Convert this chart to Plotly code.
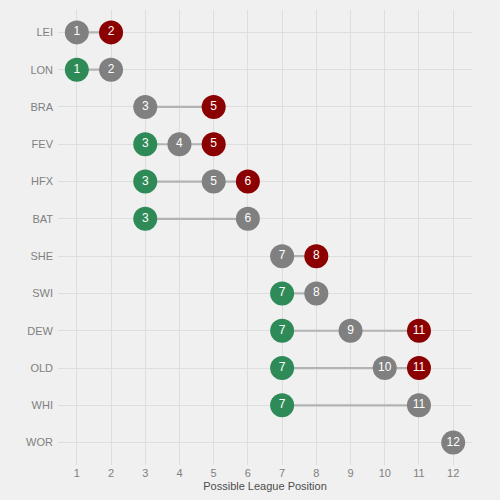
import plotly.graph_objects as go

teams = ["LEI", "LON", "BRA", "FEV", "HFX", "BAT", "SHE", "SWI", "DEW", "OLD", "WHI", "WOR"]
best_pos = [None, 1, None, 3, 3, 3, None, 7, 7, 7, 7, None]      # green
other_pos = [1, 2, 3, 4, 5, 6, 7, 8, 9, 10, 11, 12]               # grey
worst_pos = [2, None, 5, 5, 6, None, 8, None, 11, 11, None, None]  # red
x_ticks = list(range(1, 13))

GREEN = "#2e8b57"
RED = "#8b0000"
GREY = "#808080"
FONT = "Liberation Sans, Arial, sans-serif"

fig = go.Figure()

# range lines
for t, b, o, w in zip(teams, best_pos, other_pos, worst_pos):
    vals = [v for v in (b, o, w) if v is not None]
    lo, hi = min(vals), max(vals)
    if hi > lo:
        fig.add_trace(go.Scatter(x=[lo, hi], y=[t, t], mode="lines",
                                 line=dict(color="#b3b3b3", width=2.2),
                                 hoverinfo="skip", showlegend=False))

def add_points(vals, color):
    xs = [v for v in vals if v is not None]
    ys = [t for t, v in zip(teams, vals) if v is not None]
    fig.add_trace(go.Scatter(x=xs, y=ys, mode="markers+text",
                             marker=dict(color=color, size=24, line=dict(width=0)),
                             text=[str(v) for v in xs], textposition="middle center",
                             textfont=dict(color="white", size=12, family=FONT),
                             showlegend=False))

add_points(other_pos, GREY)
add_points(best_pos, GREEN)
add_points(worst_pos, RED)

fig.update_layout(
    width=500, height=500,
    margin=dict(l=58, r=28, t=10, b=35),
    paper_bgcolor="#f0f0f0", plot_bgcolor="#f0f0f0",
    font=dict(family=FONT, color="#7f7f7f", size=11),
    showlegend=False,
)
fig.update_xaxes(range=[0.45, 12.55], tickvals=x_ticks, ticktext=[str(v) for v in x_ticks],
                 showgrid=True, gridcolor="#dedede", gridwidth=1, zeroline=False,
                 showline=False, ticks="", tickfont=dict(size=11, color="#7f7f7f"),
                 title=dict(text="Possible League Position", standoff=4,
                            font=dict(size=11, color="#4d4d4d")))
fig.update_yaxes(type="category", categoryorder="array", categoryarray=teams,
                 range=[11.6, -0.6], showgrid=True, gridcolor="#dedede", gridwidth=1,
                 zeroline=False, showline=False, ticks="",
                 tickfont=dict(size=11, color="#7f7f7f"), ticklabelstandoff=4)

fig.write_html("out.html")
